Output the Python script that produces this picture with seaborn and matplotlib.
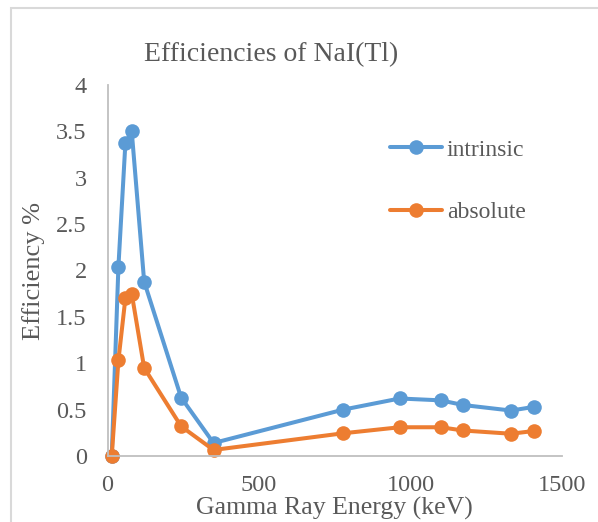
import matplotlib
matplotlib.use("Agg")
import matplotlib.pyplot as plt
import matplotlib.patches as mpatches
from matplotlib.ticker import FuncFormatter, MultipleLocator
import numpy as np
import pandas as pd
import seaborn as sns

# Gamma-ray energies (keV) and detector efficiencies (%)
energy = [14, 36, 59, 80, 121, 243, 350, 778, 964, 1100, 1173, 1332, 1408]
intrinsic = [0.0, 2.04, 3.37, 3.50, 1.88, 0.63, 0.14, 0.50, 0.62, 0.60, 0.55, 0.49, 0.53]
absolute = [0.0, 1.03, 1.70, 1.75, 0.95, 0.32, 0.065, 0.245, 0.31, 0.31, 0.275, 0.24, 0.27]
series_names = ["intrinsic", "absolute"]
series_colors = ["#5B9BD5", "#ED7D31"]

df = pd.DataFrame({
    "energy": energy * 2,
    "efficiency": intrinsic + absolute,
    "series": [series_names[0]] * len(energy) + [series_names[1]] * len(energy),
})

sns.set_theme(style="white")
plt.rcParams["font.family"] = ["Liberation Serif", "DejaVu Serif"]
text_color = "#595959"
axis_color = "#BFBFBF"

fig = plt.figure(figsize=(5.98, 5.22), dpi=100)
fig.patch.set_facecolor("white")

# outer chart frame
frame = mpatches.Rectangle((11 / 598, -0.05), 1.2, 1 - 8 / 522 + 0.05,
                           transform=fig.transFigure, fill=False,
                           edgecolor="#D9D9D9", linewidth=1.5, zorder=0)
fig.patches.append(frame)

ax = fig.add_axes([107.5 / 598, 1 - 456 / 522, (562 - 107.5) / 598, (456 - 85) / 522])
sns.lineplot(data=df, x="energy", y="efficiency", hue="series",
             hue_order=series_names, palette=series_colors,
             marker="o", markersize=10.5, markeredgewidth=0,
             linewidth=2.9, ax=ax, clip_on=False)

ax.set_xlim(0, 1500)
ax.set_ylim(0, 4)
ax.xaxis.set_major_locator(MultipleLocator(500))
ax.yaxis.set_major_locator(MultipleLocator(0.5))
ax.yaxis.set_major_formatter(FuncFormatter(lambda v, p: f"{v:g}"))
ax.tick_params(axis="both", length=0, labelsize=17.5, colors=text_color)
ax.tick_params(axis="x", pad=14)
ax.tick_params(axis="y", pad=15)

for side in ["top", "right"]:
    ax.spines[side].set_visible(False)
for side in ["left", "bottom"]:
    ax.spines[side].set_color(axis_color)
    ax.spines[side].set_linewidth(1.3)
ax.set_facecolor("none")

ax.set_xlabel("Gamma Ray Energy (keV)", fontsize=18.5, color=text_color, labelpad=0)
ax.set_ylabel("Efficiency %", fontsize=19, color=text_color, labelpad=8)

fig.text(271 / 598, 1 - 61 / 522, "Efficiencies of NaI(Tl)", fontsize=20,
         color=text_color, ha="center", va="baseline")

leg = ax.legend(loc="upper left", bbox_to_anchor=(390 / 598, 1 - 139 / 522),
                bbox_transform=fig.transFigure, frameon=False, fontsize=17,
                handlelength=2.2, handletextpad=0.2, labelspacing=1.75,
                borderaxespad=0, borderpad=0)
for t in leg.get_texts():
    t.set_color(text_color)

fig.savefig("out.png", dpi=100, facecolor="white")
